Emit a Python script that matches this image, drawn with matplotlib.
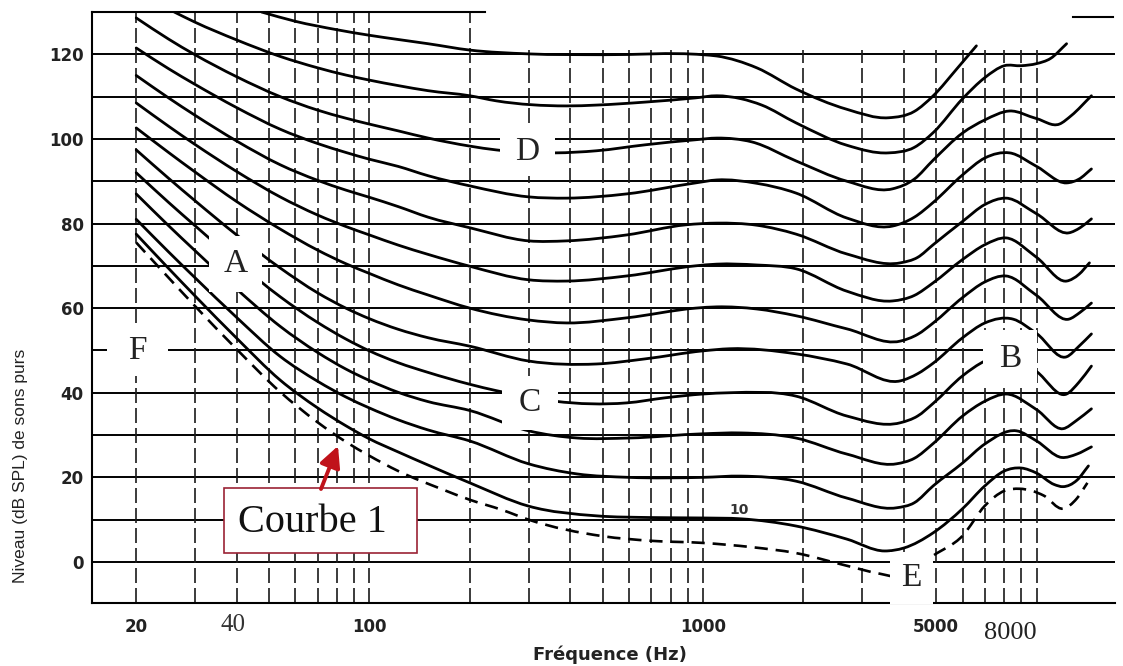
import numpy as np
import matplotlib.pyplot as plt
from matplotlib.patches import Rectangle, PathPatch
from matplotlib.path import Path

# courbes isosoniques (niveau en dB SPL en fonction de la fréquence en Hz)
# seuil d'audition (courbe 1, pointillés)
f_seuil = [20, 25, 30, 40, 54, 70, 85, 100, 122, 165, 200, 250, 300, 500, 700, 1000,
           1400, 1900, 2700, 3400, 4000, 4900, 6000, 7000, 8000, 8900, 10500, 12000, 13200, 14200]
db_seuil = [75.5, 67.2, 60.5, 50.3, 40.2, 33.0, 28.4, 25.1, 21.5, 17.2, 14.7, 12.3, 10, 6.1, 5, 4.5,
            3.5, 2.1, -0.9, -2.8, -3.5, 1.5, 6.2, 13.3, 16.8, 17.3, 15.7, 12.6, 15, 18.7]

f_10 = [20, 25, 30, 40, 54, 70, 85, 100, 122, 150, 200, 300, 480, 700, 1000, 1300, 1900,
        2700, 3500, 4000, 4900, 6000, 7000, 8000, 9000, 10000, 11300, 12000, 13200, 14300]
db_10 = [77.5, 69.4, 62.9, 52.9, 43.0, 36.4, 32.2, 29.1, 26.0, 22.9, 18.7, 13.2, 10.9, 10.5, 10.4, 10.2, 8.5,
         5.4, 2.6, 3.3, 6.9, 12.6, 18, 21.5, 22.2, 21, 18.3, 17.8, 19.3, 22.7]

f_20 = [20, 25, 30, 40, 54, 70, 85, 100, 122, 150, 200, 300, 420, 600, 1000, 1300, 1900,
        2700, 3800, 4300, 4900, 6000, 7000, 8700, 10000, 11900, 13200, 14600]
db_20 = [81, 73.3, 67.2, 57.8, 48.6, 42.7, 39.0, 36.4, 33.6, 31.2, 28.6, 23.2, 20.8, 20, 20, 20.3, 19.1,
         15.1, 12.8, 14, 18, 23.4, 27.9, 31, 28.6, 24.7, 25.5, 27.2]

f_30 = [20, 25, 30, 40, 54, 70, 85, 100, 122, 150, 200, 300, 420, 600, 1000, 1300, 1900,
        2700, 3800, 4300, 4900, 6000, 7000, 8100, 10000, 12000, 13200, 14600]
db_30 = [87, 79.5, 73.6, 64.5, 55.7, 49.5, 45.6, 42.9, 40.1, 37.9, 35.8, 31, 29.3, 29.3, 30.3, 30.5, 29.3,
         25.5, 23.2, 24.5, 28, 34.5, 38, 39.7, 36, 31.5, 33.5, 36.2]

f_40 = [20, 25, 30, 40, 54, 70, 85, 100, 122, 150, 200, 240, 300, 360, 590, 770, 1000, 1200, 1900,
        2700, 3900, 4400, 4900, 6000, 7000, 8300, 10000, 12300, 13400, 14600]
db_40 = [92, 85.0, 79.5, 71.0, 62.7, 56.6, 52.7, 49.9, 47.1, 44.8, 42, 40.5, 39, 38, 37.6, 38.8, 39.7, 40, 39.2,
         34.5, 32.9, 34.5, 37.5, 44, 47.5, 49, 45, 39.7, 42.5, 46.3]

f_50 = [20, 25, 30, 40, 54, 70, 85, 100, 122, 150, 200, 300, 480, 670, 1000, 1200, 1900,
        2700, 3900, 4400, 4900, 6000, 7000, 8500, 10000, 12300, 13400, 14600]
db_50 = [97.4, 90.7, 85.4, 77.3, 69.5, 63.6, 60.0, 57.5, 55.0, 53.0, 51, 47.5, 46.8, 48, 49.9, 50.4, 49.2,
         46.8, 42.8, 44.5, 47, 53, 56.5, 57.4, 54, 48.5, 51, 53.9]

f_60 = [20, 25, 30, 40, 54, 70, 85, 100, 122, 150, 200, 300, 390, 590, 950, 1100, 1450, 1900,
        2700, 3900, 4400, 4900, 6000, 7000, 8100, 10000, 12500, 13500, 14600]
db_60 = [102.6, 96.8, 92.2, 85.2, 78.7, 73.7, 70.5, 68.2, 65.5, 63.1, 60, 57.2, 56.5, 57.7, 60, 60.3, 59.8, 58.2,
         55.1, 52.2, 53.8, 56.5, 62.5, 66.2, 67.6, 63, 57.4, 59, 61.2]

f_70 = [20, 25, 30, 40, 54, 70, 85, 100, 122, 150, 200, 300, 390, 590, 950, 1100, 1450, 1900,
        2700, 3700, 4300, 4900, 6000, 7000, 8100, 10000, 12300, 13400, 14400]
db_70 = [108.5, 103, 98.7, 92.3, 86.3, 82.0, 79.3, 77.3, 74.9, 72.7, 69.9, 66.7, 66.4, 67.6, 70, 70.4, 70.2, 69.3,
         64, 61.7, 63, 66, 71.5, 75, 76.6, 72, 66.4, 68, 70.7]

f_80 = [20, 25, 30, 40, 54, 70, 85, 100, 122, 150, 200, 300, 390, 590, 890, 1100, 1450, 1900,
        2700, 3900, 4400, 4900, 6000, 7000, 8100, 10000, 12500, 13500, 14600]
db_80 = [115, 109.7, 105.6, 99.5, 93.9, 90.2, 87.9, 86.2, 84.0, 81.5, 79, 75.9, 75.9, 77.3, 79.7, 80.1, 79.6, 77.5,
         72.8, 70.7, 72, 75, 80.5, 84.5, 86, 82.3, 77.8, 79, 81.1]

f_90 = [20, 25, 30, 40, 54, 70, 85, 100, 122, 150, 200, 300, 390, 590, 950, 1100, 1450, 1900,
        2700, 3700, 4300, 4900, 6000, 7000, 8300, 10000, 12300, 13400, 14600]
db_90 = [121.5, 116.6, 112.9, 107.4, 102.3, 98.9, 96.8, 95.2, 93.5, 91.3, 88.9, 86.3, 86, 87, 89.6, 90.3, 89.5, 87.2,
         81.3, 79.4, 81.5, 85, 91.5, 95.5, 96.7, 93.5, 89.6, 90.5, 92.9]

f_100 = [20, 25, 30, 40, 54, 70, 85, 100, 122, 150, 200, 240, 360, 480, 670, 950, 1100, 1400, 1900,
         2700, 3700, 4300, 4900, 6000, 7000, 8300, 10000, 11700, 12700, 14600]
db_100 = [128.6, 123.6, 119.9, 114.7, 110.0, 106.8, 104.9, 103.5, 101.9, 100.2, 98.3, 97.4, 96.7, 97.2, 98.6, 99.8, 100.2, 99.3, 94.8,
          90, 88.2, 90.5, 95, 101.4, 104.5, 106.6, 104.8, 103.5, 105.5, 110.2]

f_110 = [26, 30, 40, 54, 70, 85, 100, 122, 150, 200, 240, 390, 480, 670, 950, 1100, 1300, 1500, 1900,
         2700, 3600, 4300, 4900, 6000, 7000, 8000, 9000, 10000, 11000, 12300]
db_110 = [130, 127.6, 123.4, 119.5, 116.8, 115.1, 113.9, 112.6, 111.4, 110.2, 109, 107.8, 108, 108.7, 109.7, 110.2, 109.5, 108, 103.8,
          98.5, 96.7, 98, 101.5, 109.5, 114.5, 117.3, 117.3, 117.8, 119, 122.5]

f_120 = [47.5, 60, 80, 100, 122, 150, 200, 300, 500, 1000, 1100, 1450, 1900, 2700, 3600, 4300, 4900, 5800, 6600]
db_120 = [130, 127.8, 125.8, 124.5, 123.5, 122.5, 121, 120.1, 119.9, 119.9, 119.6, 116.8, 111.8, 107, 105, 106.5, 110.2, 116.8, 122]

niveaux_grille = list(range(0, 121, 10))
freq_grille = list(range(20, 101, 10)) + list(range(200, 1001, 100)) + list(range(2000, 10001, 1000))
yticks = list(range(0, 121, 20))
xticks = [20, 100, 1000, 5000]
xticklabels = ['20', '100', '1000', '5000']

W, H = 1123, 666
fig = plt.figure(figsize=(W / 100, H / 100), dpi=100)
ax = fig.add_axes([92 / W, (H - 603) / H, (1115 - 92) / W, (603 - 12) / H])
ax.set_xscale('log')
ax.set_xlim(14.74, 17180)
ax.set_ylim(-9.7, 130)


def px(x, y):
    # position in the picture -> axes fraction
    return ((x - 92) / 1023, (603 - y) / 591)


def smooth_path(f, db):
    # trace lissé (Hermite cubique en log f) passant par les points lus
    x = np.log10(np.asarray(f, float))
    y = np.asarray(db, float)
    h = np.diff(x)
    d = np.diff(y) / h
    m = np.empty_like(y)
    m[0], m[-1] = d[0], d[-1]
    m[1:-1] = (d[1:] * h[:-1] + d[:-1] * h[1:]) / (h[:-1] + h[1:])
    verts = [(x[0], y[0])]
    codes = [Path.MOVETO]
    for i in range(len(x) - 1):
        verts += [(x[i] + h[i] / 3, y[i] + m[i] * h[i] / 3),
                  (x[i + 1] - h[i] / 3, y[i + 1] - m[i + 1] * h[i] / 3),
                  (x[i + 1], y[i + 1])]
        codes += [Path.CURVE4] * 3
    verts = np.array(verts)
    verts[:, 0] = 10 ** verts[:, 0]
    return Path(verts, codes)


for s in ['right', 'top']:
    ax.spines[s].set_visible(False)
for s in ['left', 'bottom']:
    ax.spines[s].set_linewidth(1.5)

# bord supérieur partiel
ax.plot([14.74, 222], [130, 130], color='black', lw=1.5, clip_on=False)
x0, y0 = px(1073, 17)
x1, _ = px(1113, 17)
ax.plot([x0, x1], [y0, y0], transform=ax.transAxes, color='black', lw=1.5, clip_on=False)

for lv in niveaux_grille:
    ax.axhline(lv, color='black', lw=1.4, zorder=1)
for f in freq_grille:
    top = 130 if f <= 200 else 121
    ax.vlines(f, -9.7, top, colors='#1a1a1a', linestyles=(0, (9, 3)), lw=1.2, zorder=1)

courbes = [(f_10, db_10), (f_20, db_20), (f_30, db_30), (f_40, db_40), (f_50, db_50),
           (f_60, db_60), (f_70, db_70), (f_80, db_80), (f_90, db_90), (f_100, db_100),
           (f_110, db_110), (f_120, db_120)]
for f, db in courbes:
    ax.add_patch(PathPatch(smooth_path(f, db), fill=False, edgecolor='black', lw=2.0,
                           capstyle='round', joinstyle='round', zorder=3))
ax.add_patch(PathPatch(smooth_path(f_seuil, db_seuil), fill=False, edgecolor='black', lw=1.9,
                       linestyle=(0, (5, 3)), zorder=3))


def label_box(txt, xa, ya, xb, yb, size=24):
    ax.add_patch(Rectangle(px(xa, yb), (xb - xa) / 1023, (yb - ya) / 591, transform=ax.transAxes,
                           facecolor='white', edgecolor='none', zorder=5, clip_on=False))
    cx, cy = px((xa + xb) / 2, (ya + yb) / 2)
    ax.text(cx, cy, txt, transform=ax.transAxes, ha='center', va='center', fontsize=size,
            family='Liberation Serif', color='#222222', zorder=6)


label_box('A', 209, 236, 262, 292)
label_box('B', 983, 330, 1037, 388)
label_box('C', 502, 376, 558, 430)
label_box('D', 500, 128, 555, 176)
label_box('E', 890, 552, 933, 604)
label_box('F', 107, 325, 168, 376)

# encadré "Courbe 1"
ax.add_patch(Rectangle(px(224, 553), (417 - 224) / 1023, (553 - 488) / 591, transform=ax.transAxes,
                       facecolor='white', edgecolor='#9b2335', lw=1.2, zorder=5, clip_on=False))
cx, cy = px(312, 523)
ax.text(cx, cy, 'Courbe 1', transform=ax.transAxes, ha='center', va='center', fontsize=29,
        family='Liberation Serif', color='#111111', zorder=6)
ax.annotate('', xy=px(338, 446), xytext=px(321, 489), xycoords='axes fraction',
            arrowprops=dict(arrowstyle='-|>,head_width=0.45,head_length=0.9', color='#c0121a',
                            lw=2.8, shrinkA=0, shrinkB=0, mutation_scale=14), zorder=7)

cx, cy = px(739, 510)
ax.text(cx, cy, '10', transform=ax.transAxes, ha='center', va='center', fontsize=10,
        fontweight='bold', color='#333333', zorder=4)

ax.set_yticks(yticks)
ax.set_xticks(xticks, xticklabels)
ax.xaxis.set_minor_locator(plt.NullLocator())
ax.tick_params(length=0, labelsize=12)
ax.tick_params(axis='y', pad=6)
ax.tick_params(axis='x', pad=11)
for t in ax.get_xticklabels() + ax.get_yticklabels():
    t.set_fontweight('bold')
    t.set_color('#222222')

cx, cy = px(233, 625)
ax.text(cx, cy, '40', transform=ax.transAxes, ha='center', va='center', fontsize=18,
        family='Liberation Serif', color='#333333', clip_on=False)
cx, cy = px(1010, 633)
ax.text(cx, cy, '8000', transform=ax.transAxes, ha='center', va='center', fontsize=19,
        family='Liberation Serif', color='#222222', clip_on=False)

fig.text(610 / W, 1 - 655 / H, 'Fréquence (Hz)', ha='center', va='center', fontsize=13,
         fontweight='bold', color='#222222')
fig.text(21 / W, 1 - 466 / H, 'Niveau (dB SPL) de sons purs', ha='center', va='center',
         rotation=90, fontsize=12.5, family='Liberation Sans', color='#222222')

fig.savefig('out.png', dpi=100, facecolor='white')
